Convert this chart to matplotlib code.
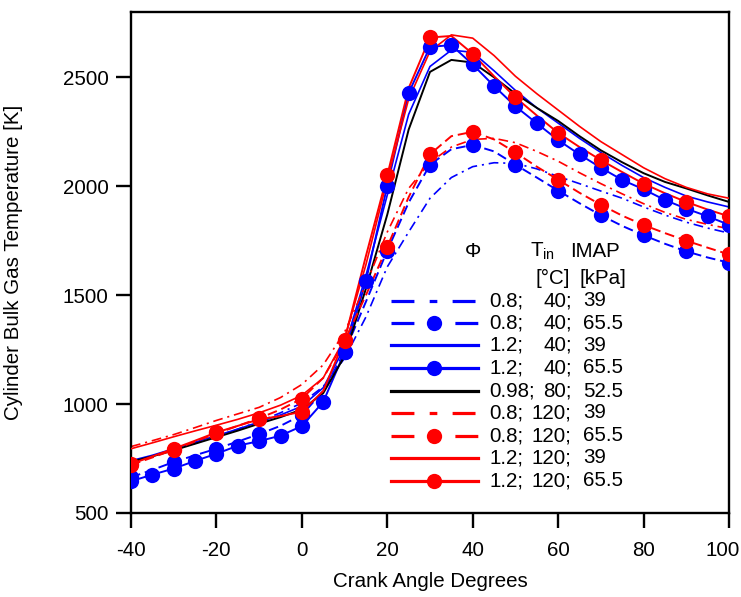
import matplotlib
matplotlib.use("Agg")
import matplotlib.pyplot as plt
from matplotlib.lines import Line2D
from matplotlib.transforms import ScaledTranslation

plt.rcParams["font.family"] = ["Liberation Sans", "DejaVu Sans"]
plt.rcParams["mathtext.fontset"] = "custom"
plt.rcParams["mathtext.rm"] = "Liberation Sans"
plt.rcParams["lines.scale_dashes"] = False
plt.rcParams["axes.unicode_minus"] = False

FS = 14.8

# crank angle grid (deg)
ca = [-40, -35, -30, -25, -20, -15, -10, -5, 0, 5, 10, 15, 20, 25, 30, 35, 40,
      45, 50, 55, 60, 65, 70, 75, 80, 85, 90, 95, 100]

# bulk gas temperature [K], one list per case (phi; T_in; IMAP)
t_08_40_39 = [735, 762, 790, 820, 852, 885, 920, 960, 1005, 1080, 1210, 1400, 1630,
              1790, 1945, 2040, 2090, 2108, 2105, 2080, 2045, 2012, 1978, 1945,
              1905, 1868, 1835, 1808, 1785]
t_08_40_655 = [664, 698, 734, 765, 795, 828, 862, 900, 950, 1060, 1240, 1470, 1705,
               1925, 2099, 2170, 2190, 2160, 2099, 2040, 1980, 1922, 1867, 1818,
               1775, 1736, 1701, 1673, 1649]
t_12_40_39 = [740, 765, 795, 825, 855, 885, 918, 950, 990, 1075, 1260, 1590, 1960,
              2330, 2550, 2625, 2615, 2530, 2440, 2360, 2290, 2220, 2155, 2095,
              2040, 1995, 1955, 1928, 1905]
t_12_40_655 = [646, 676, 704, 739, 772, 809, 830, 855, 899, 1010, 1238, 1565, 2003,
               2428, 2640, 2648, 2559, 2460, 2367, 2289, 2212, 2146, 2085, 2029,
               1986, 1937, 1897, 1862, 1823]
t_098_80_525 = [735, 760, 788, 818, 848, 878, 910, 940, 975, 1050, 1220, 1530, 1870,
                2260, 2525, 2580, 2568, 2500, 2425, 2360, 2300, 2230, 2165, 2110,
                2060, 2020, 1990, 1958, 1928]
t_08_120_39 = [805, 832, 860, 892, 925, 955, 985, 1030, 1090, 1180, 1330, 1550, 1790,
               1990, 2110, 2180, 2215, 2220, 2200, 2160, 2115, 2062, 2012, 1965,
               1920, 1880, 1848, 1825, 1805]
t_08_120_655 = [720, 755, 790, 828, 865, 900, 935, 975, 1025, 1120, 1290, 1500, 1722,
                1950, 2147, 2230, 2250, 2215, 2155, 2090, 2030, 1970, 1915, 1865,
                1822, 1785, 1750, 1718, 1687]
t_12_120_39 = [795, 822, 850, 877, 903, 930, 960, 995, 1040, 1120, 1300, 1640, 2030,
               2400, 2620, 2695, 2680, 2600, 2505, 2425, 2350, 2275, 2205, 2145,
               2085, 2035, 1995, 1965, 1945]
t_12_120_655 = [725, 760, 795, 832, 870, 900, 930, 945, 965, 1060, 1295, 1680, 2050,
                2450, 2683, 2690, 2608, 2505, 2408, 2325, 2245, 2180, 2120, 2065,
                2012, 1968, 1928, 1893, 1862]

# legend text columns
leg_phi = ["0.8;", "0.8;", "1.2;", "1.2;", "0.98;", "0.8;", "0.8;", "1.2;", "1.2;"]
leg_tin = ["40;", "40;", "40;", "40;", "80;", "120;", "120;", "120;", "120;"]
leg_imap = ["39", "65.5", "39", "65.5", "52.5", "39", "65.5", "39", "65.5"]

BLUE = "#0000ff"
RED = "#ff0000"
DASHDOT = (0, (7, 3.5, 1.5, 3.5))
DASHED = (0, (7, 3.5))

# (data, color, linestyle, linewidth, marker, markevery)
series = [
    (t_08_40_39, BLUE, DASHDOT, 1.2, None, None),
    (t_08_40_655, BLUE, DASHED, 1.4, "o", 2),
    (t_12_40_39, BLUE, "-", 1.2, None, None),
    (t_12_40_655, BLUE, "-", 1.4, "o", 1),
    (t_098_80_525, "black", "-", 1.4, None, None),
    (t_08_120_39, RED, DASHDOT, 1.2, None, None),
    (t_08_120_655, RED, DASHED, 1.4, "o", 2),
    (t_12_120_39, RED, "-", 1.2, None, None),
    (t_12_120_655, RED, "-", 1.4, "o", 2),
]

fig = plt.figure(figsize=(7.41, 5.97), dpi=100)
ax = fig.add_axes([131 / 741, 1 - 513 / 597, 598 / 741, 501 / 597])

for i, (t, c, ls, lw, mk, me) in enumerate(series):
    ax.plot(ca, t, color=c, linestyle=ls, linewidth=lw, zorder=2 + i * 0.1)
    if mk:
        ax.plot(ca[::me], t[::me], linestyle="none", marker="o", markersize=11,
                color=c, markeredgewidth=0, zorder=3 + i * 0.1)

ax.set_xlim(-40, 100)
ax.set_ylim(500, 2800)
ax.set_xticks(range(-40, 101, 20))
ax.set_yticks(range(500, 2501, 500))
ax.tick_params(direction="out", length=11, width=1.7, labelsize=FS,
               top=False, right=False)
ax.tick_params(axis="x", pad=9)
ax.tick_params(axis="y", pad=5)
for sp in ax.spines.values():
    sp.set_linewidth(1.7)

# keep the last x label ("100") inside the canvas
fig.canvas.draw()
last = ax.get_xticklabels()[-1]
last.set_transform(last.get_transform() + ScaledTranslation(-4.5 / 72, 0, fig.dpi_scale_trans))

ax.set_xlabel("Crank Angle Degrees", fontsize=FS, va="center")
ax.set_ylabel("Cylinder Bulk Gas Temperature [K]", fontsize=FS)
ax.xaxis.set_label_coords(0.5, -0.1377)
ax.yaxis.set_label_coords(-0.181, 0.5)

# hand-built legend, columns like the original
x0, x1, xm = 0.4348, 0.5803, 0.5075
rows_y = [0.4238, 0.3792, 0.3353, 0.2901, 0.2435, 0.2002, 0.1543, 0.1098, 0.0645]
leg_dash = {DASHDOT: (0, (16.5, 11, 5.5, 11)), DASHED: (0, (16.5, 29.5)), "-": "-"}
for y, (t, c, ls, lw, mk, me), p, ti, im in zip(rows_y, series, leg_phi, leg_tin, leg_imap):
    ax.add_line(Line2D([x0, x1], [y, y], transform=ax.transAxes, color=c,
                       linestyle=leg_dash[ls], linewidth=2.3, clip_on=False))
    if mk:
        ax.add_line(Line2D([xm], [y], transform=ax.transAxes, color=c, marker="o",
                           markersize=11, markeredgewidth=0, linestyle="none"))
    ax.text(0.5987, y, p, transform=ax.transAxes, fontsize=FS, va="center", ha="left")
    ax.text(0.7370, y, ti, transform=ax.transAxes, fontsize=FS, va="center", ha="right")
    ax.text(0.7564, y, im, transform=ax.transAxes, fontsize=FS, va="center", ha="left")

ax.text(0.5719, 0.5216, "\u03a6", transform=ax.transAxes, fontsize=FS, va="center", ha="center")
ax.text(0.6672, 0.5216, r"T$_{\rm in}$", transform=ax.transAxes, fontsize=FS, va="center", ha="left")
ax.text(0.7341, 0.5216, "IMAP", transform=ax.transAxes, fontsize=FS, va="center", ha="left")
ax.text(0.6756, 0.4685, "[\u00b0C]", transform=ax.transAxes, fontsize=FS, va="center", ha="left")
ax.text(0.7492, 0.4685, "[kPa]", transform=ax.transAxes, fontsize=FS, va="center", ha="left")

fig.savefig("out.png", dpi=100)
